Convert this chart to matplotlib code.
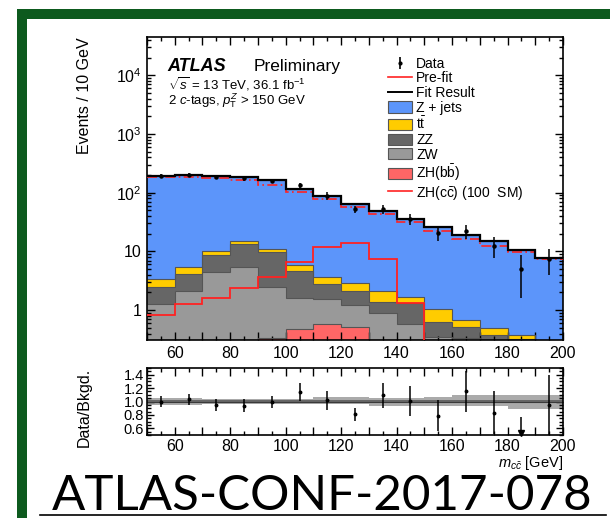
import matplotlib
matplotlib.use("Agg")
import matplotlib.pyplot as plt
import numpy as np
from matplotlib.lines import Line2D
from matplotlib.patches import Patch, Rectangle
from matplotlib.ticker import MultipleLocator, FuncFormatter, LogLocator, NullFormatter

plt.rcParams['font.family'] = ['Liberation Sans', 'DejaVu Sans']
plt.rcParams['mathtext.fontset'] = 'custom'
plt.rcParams['mathtext.rm'] = 'Liberation Sans'
plt.rcParams['mathtext.it'] = 'Liberation Sans:italic'
plt.rcParams['mathtext.bf'] = 'Liberation Sans:bold'

# m_cc bins, 10 GeV wide
edges = np.arange(50, 201, 10)
centers = edges[:-1] + 5

# stacked backgrounds (post-fit), bottom to top
zhbb = [0.05, 0.06, 0.08, 0.12, 0.33, 0.47, 0.59, 0.51, 0.25, 0.15, 0.08, 0.05, 0.03, 0.02, 0.01]
zw = [1.22, 2.05, 4.31, 5.22, 2.17, 1.17, 0.93, 0.71, 0.63, 0.43, 0.27, 0.28, 0.27, 0.26, 0.19]
zz = [1.23, 1.99, 4.36, 7.86, 7.1, 3.06, 1.22, 0.89, 0.51, 0.72, 0.28, 0.19, 0.07, 0.04, 0.05]
ttbar = [0.83, 1.24, 1.45, 1.8, 1.3, 1.15, 0.96, 0.81, 0.72, 0.39, 0.41, 0.17, 0.13, 0.055, 0.04]
zjets = [188.7, 192.7, 185.8, 171.0, 151.1, 112.2, 84.3, 61.1, 46.9, 34.3, 25.0, 18.3, 14.5, 10.4, 7.5]

prefit = [187, 187, 175, 168, 135, 101, 77, 57.5, 44, 32, 22.4, 16, 12.4, 9.8, 7.3]
zhcc100 = [0.84, 1.27, 1.62, 2.4, 3.7, 6.65, 11.7, 14.2, 7.3, 1.30, 0.01, 0.01, 0.01, 0.01, 0.01]

data = [192, 203, 186, 175, 160, 134, 89, 52, 53, 36, 21, 22, 12.5, 5.1, 7.4]
data_err = [16, 16, 17, 18, 14.5, 15, 12.3, 6.4, 8.8, 7.8, 6.1, 5.7, 4.8, 3.5, 3.5]

ratio = [1.00, 1.03, 0.95, 0.94, 0.99, 1.14, 1.015, 0.81, 1.09, 1.01, 0.79, 1.15, 0.83, 0.47, 0.95]
ratio_err = [0.085, 0.08, 0.09, 0.10, 0.09, 0.13, 0.14, 0.10, 0.18, 0.22, 0.23, 0.30, 0.32, 0.30, 0.45]
band_lo = [0.95, 0.95, 0.96, 0.96, 0.96, 0.96, 0.96, 0.96, 0.94, 0.94, 0.93, 0.94, 0.93, 0.89, 0.89]
band_hi = [1.05, 1.05, 1.03, 1.03, 1.04, 1.04, 1.06, 1.07, 1.05, 1.05, 1.06, 1.09, 1.09, 1.09, 1.09]
stat_lo = [0.972] * 15
stat_hi = [1.028] * 15

layers = [zhbb, zw, zz, ttbar, zjets]
colors = ['#ff6666', '#999999', '#666666', '#ffcc00', '#5c95fa']
names = ['Z + jets', r't$\bar{\mathrm{t}}$', 'ZZ', 'ZW', r'ZH(b$\bar{\mathrm{b}}$)']

W, H = 610, 518
fig = plt.figure(figsize=(W / 100, H / 100), dpi=100)

def box(l, t, r, b):
    return [l / W, 1 - b / H, (r - l) / W, (b - t) / H]

ax = fig.add_axes(box(147, 37, 563, 340))
rax = fig.add_axes(box(147, 368, 563, 435))

cum = np.cumsum(np.array(layers), axis=0)
base = np.full(len(centers), 1e-3)
for i, vals in enumerate(cum):
    ax.stairs(vals, edges, baseline=base, fill=True, color=colors[i], zorder=1)
    ax.stairs(vals, edges, baseline=None, color='#555555', lw=0.8, zorder=2)
    base = vals
total = cum[-1]

ax.stairs(zhcc100, edges, baseline=None, color='#ff2222', lw=1.3, zorder=3)
ax.stairs(prefit, edges, baseline=None, color='#ff2222', lw=1.2, ls=(0, (6, 2, 1, 2)), zorder=3)
ax.stairs(total, edges, baseline=None, color='black', lw=1.6, zorder=4)
ax.errorbar(centers, data, yerr=data_err, fmt='o', ms=2.2, color='black', elinewidth=1.1, capsize=0, zorder=5)

ax.set_yscale('log')
ax.set_xlim(50, 200)
ax.set_ylim(0.31, 4.5e4)

def ylab(v, pos):
    if v == 1:
        return '1'
    if v == 10:
        return '10'
    return r'$10^{%d}$' % round(np.log10(v))

ax.yaxis.set_major_locator(LogLocator(base=10, numticks=10))
ax.yaxis.set_minor_locator(LogLocator(base=10, subs=np.arange(2, 10), numticks=20))
ax.yaxis.set_major_formatter(FuncFormatter(ylab))
ax.yaxis.set_minor_formatter(NullFormatter())

for a in (ax, rax):
    a.xaxis.set_major_locator(MultipleLocator(10))
    a.xaxis.set_minor_locator(MultipleLocator(5))
    a.xaxis.set_major_formatter(FuncFormatter(lambda v, p: '%d' % v if v % 20 == 0 else ''))
    a.tick_params(which='both', direction='in', top=True, right=True, width=1.0)
    a.tick_params(which='major', length=6, labelsize=11.5, pad=4)
    a.tick_params(which='minor', length=3)
    for s in a.spines.values():
        s.set_linewidth(1.2)
rax.tick_params(axis='x', which='major', pad=3)

# ratio panel
rax.stairs(band_hi, edges, baseline=band_lo, fill=True, color='#aaaaaa', lw=0, zorder=1)
rax.stairs(stat_hi, edges, baseline=stat_lo, fill=True, color='#666666', lw=0, zorder=2)
rax.axhline(1.0, color='#3a3a3a', lw=0.8, zorder=2)
rax.errorbar(centers, ratio, yerr=ratio_err, fmt='o', ms=1.8, color='black', elinewidth=1.1, capsize=0, zorder=5)
rax.set_xlim(50, 200)
rax.set_ylim(0.5, 1.5)
low = [c for c, r in zip(centers, ratio) if r < 0.5]
rax.plot(low, [0.53] * len(low), 'v', color='black', ms=5, zorder=6, clip_on=False)
rax.yaxis.set_major_locator(MultipleLocator(0.2))
rax.yaxis.set_minor_locator(MultipleLocator(0.05))
rax.yaxis.set_major_formatter(FuncFormatter(lambda v, p: '%.1f' % v if 0.55 < v < 1.45 else ''))
rax.tick_params(axis='y', which='major', labelsize=10.5, pad=2)
rax.tick_params(axis='y', which='major', length=5)
rax.tick_params(axis='y', which='minor', length=3)

# labels
fig.text(85 / W, 1 - 37 / H, 'Events / 10 GeV', rotation=90, ha='center', va='top', fontsize=11.5)
fig.text(84 / W, 1 - 407 / H, 'Data/Bkgd.', rotation=90, ha='center', va='center', fontsize=11.5)
fig.text(563 / W, 1 - 463 / H, r'$m_{c\bar{c}}$ [GeV]', ha='right', va='center', fontsize=10.5)

ax.text(0.05, 0.904, 'ATLAS', transform=ax.transAxes, fontsize=13, fontweight='bold', style='italic', va='center')
ax.text(0.257, 0.904, 'Preliminary', transform=ax.transAxes, fontsize=12.5, va='center')
ax.text(0.05, 0.845, r'$\sqrt{s}$ = 13 TeV, 36.1 fb$^{-1}$', transform=ax.transAxes, fontsize=9.5, va='center')
ax.text(0.05, 0.789, r'2 $c$-tags, $p_{\mathrm{T}}^{Z}$ > 150 GeV', transform=ax.transAxes, fontsize=9.5, va='center')

data_handle = (Line2D([0], [0], color='black', marker='|', ms=9, mew=1.2, lw=0),
               Line2D([0], [0], color='black', marker='o', ms=2, lw=0))
handles = [
    data_handle,
    Line2D([0], [0], color='#ff2222', lw=1.2),
    Line2D([0], [0], color='black', lw=1.4),
]
handles += [Patch(facecolor=c, edgecolor='#555555', lw=0.8) for c in colors[::-1]]
handles += [Line2D([0], [0], color='#ff2222', lw=1.2)]
labels = ['Data', 'Pre-fit', 'Fit Result'] + names + [r'ZH(c$\bar{\mathrm{c}}$) (100  SM)']
ax.legend(handles, labels, loc='upper left', bbox_to_anchor=(0.58, 0.935), frameon=False,
          fontsize=10, handlelength=1.7, handleheight=0.85, handletextpad=0.3,
          labelspacing=0.05, borderpad=0, borderaxespad=0)

# slide decoration: green frame and reference tag
fig.patches.append(Rectangle((22 / W, -0.2), 1.5, 1 - 13.5 / H + 0.2, transform=fig.transFigure,
                             fill=False, edgecolor='#0d5a1e', lw=7.2, zorder=0))
fig.text(322 / W, 1 - 495.5 / H, 'ATLAS-CONF-2017-078', ha='center', va='center',
         fontsize=35.5, family='Lato', color='black')
fig.add_artist(Line2D([40 / W, 606 / W], [1 - 515 / H, 1 - 515 / H], color='black', lw=1.2))

fig.savefig('out.png', dpi=100)
